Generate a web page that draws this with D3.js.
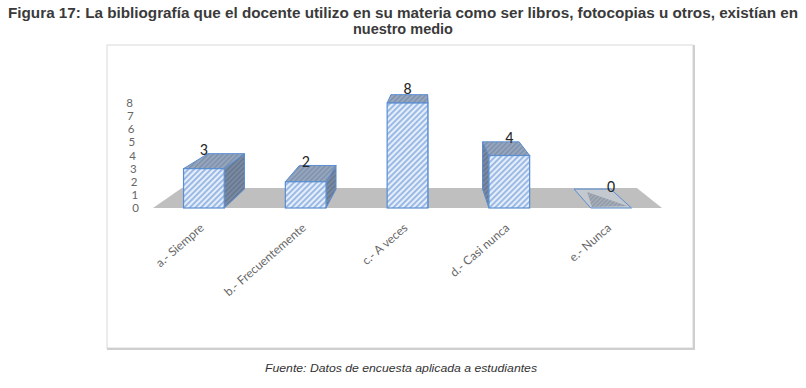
<!DOCTYPE html>
<html>
<head>
<meta charset="utf-8">
<script src="https://cdn.jsdelivr.net/npm/d3@7"></script>
<style>
  body { margin: 0; background: #fff; }
  svg { display: block; }
</style>
</head>
<body>
<svg id="chart" width="806" height="388"></svg>
<script>
var categories = ["a.- Siempre", "b.- Frecuentemente", "c.- A veces", "d.- Casi nunca", "e.- Nunca"];
var values = [3, 2, 8, 4, 0];
var yTicks = [0, 1, 2, 3, 4, 5, 6, 7, 8];
var titleLines = ["Figura 17: La bibliografía que el docente utilizo en su materia como ser libros, fotocopias u otros, existían en", "nuestro medio"];
var footer = "Fuente: Datos de encuesta aplicada a estudiantes";

var svg = d3.select("#chart");
var defs = svg.append("defs");

// fake 3d: vanishing point + depth factor
var vp = [425, 20], k = 0.106, barDepth = 0.95;
function proj(x, y, z) {
  return [x + (vp[0] - x) * k * z, y + (vp[1] - y) * k * z];
}
function poly(pts) { return pts.map(function(p) { return p.join(","); }).join(" "); }

var x = d3.scaleBand().domain(categories).range([153, 662]).paddingInner(0.6).paddingOuter(0.3);
var y = d3.scaleLinear().domain([0, 8]).range([208, 103]);

function hatch(id, bg, fg, w, size) {
  var p = defs.append("pattern").attr("id", id)
      .attr("patternUnits", "userSpaceOnUse")
      .attr("width", size).attr("height", size)
      .attr("patternTransform", "rotate(45)");
  p.append("rect").attr("width", size).attr("height", size).attr("fill", bg);
  p.append("rect").attr("width", w).attr("height", size).attr("fill", fg);
}
hatch("front", "#e6eefa", "#93b5e4", 1.8, 4);
hatch("top", "#95a6be", "#7f91ab", 1.5, 3.5);
hatch("side", "#7a8aa2", "#66768f", 1.5, 3.5);
hatch("shadow", "#a9b0ba", "#8e98a6", 1.5, 3);

// title
svg.append("g").selectAll("text")
  .data(titleLines)
  .enter().append("text")
    .attr("x", 403)
    .attr("y", function(d, i) { return 18 + i * 16; })
    .attr("text-anchor", "middle")
    .attr("textLength", function(d, i) { return i == 0 ? 790 : 100; })
    .attr("lengthAdjust", "spacingAndGlyphs")
    .style("font-family", "'Liberation Sans', Arial, sans-serif")
    .style("font-weight", "bold")
    .style("font-size", "14px")
    .style("fill", "#3a3a3a")
    .text(function(d) { return d; });

// chart frame
svg.append("rect")
  .attr("x", 107).attr("y", 45).attr("width", 586).attr("height", 303)
  .attr("fill", "#fff").attr("stroke", "#d9d9d9").attr("stroke-width", 1);
svg.append("path")
  .attr("d", "M694,45V349H107")
  .attr("fill", "none").attr("stroke", "#cfcfcf").attr("stroke-width", 2);

// floor
var x0 = x.range()[0], x1 = x.range()[1];
svg.append("polygon")
  .attr("points", poly([proj(x0, y(0), 0), proj(x1, y(0), 0), proj(x1, y(0), 1), proj(x0, y(0), 1)]))
  .attr("fill", "#bfbfbf");

// y tick labels
svg.append("g").selectAll("text")
  .data(yTicks)
  .enter().append("text")
    .attr("x", function(d) { return 139 - d * 0.75; })
    .attr("y", function(d) { return y(d); })
    .attr("dy", "0.35em")
    .attr("text-anchor", "end")
    .style("font-family", "Lato, 'Open Sans', sans-serif")
    .style("font-size", "11.5px")
    .style("fill", "#666")
    .text(function(d) { return d; });

// bars
var bars = svg.append("g").selectAll("g")
  .data(categories.map(function(c, i) { return {cat: c, value: values[i]}; }))
  .enter().append("g");

bars.each(function(d) {
  var g = d3.select(this);
  var l = x(d.cat), r = l + x.bandwidth(), t = y(d.value), b = y(0);
  var cx = l + x.bandwidth() / 2;

  if (d.value == 0) {
    // flat box lying on the floor
    var w = x.bandwidth();
    g.append("polygon")
      .attr("points", poly([proj(l, b, 0), proj(r, b, 0), proj(r, b, barDepth), proj(l, b, barDepth)]))
      .attr("fill", "#c4c9cf").attr("stroke", "#5a8ed1").attr("stroke-width", 1);
    g.append("polygon")
      .attr("points", poly([proj(l + 0.28 * w, b, 0.8), proj(l + 0.05 * w, b, 0.05), proj(l + 0.95 * w, b, 0.1)]))
      .attr("fill", "url(#shadow)");
  } else {
    // side face, whichever one faces the vanishing point
    var sx = cx < vp[0] ? r : l;
    g.append("polygon")
      .attr("points", poly([proj(sx, b, 0), proj(sx, t, 0), proj(sx, t, barDepth), proj(sx, b, barDepth)]))
      .attr("fill", "url(#side)").attr("stroke", "#5a8ed1").attr("stroke-width", 1);
    g.append("polygon")
      .attr("points", poly([proj(l, t, 0), proj(r, t, 0), proj(r, t, barDepth), proj(l, t, barDepth)]))
      .attr("fill", "url(#top)").attr("stroke", "#5a8ed1").attr("stroke-width", 1);
    g.append("rect")
      .attr("x", l).attr("y", t).attr("width", r - l).attr("height", b - t)
      .attr("fill", "url(#front)").attr("stroke", "#5a8ed1").attr("stroke-width", 1.2);
  }

  g.append("text")
    .attr("x", cx)
    .attr("y", proj(cx, t, 0.6)[1] - 4)
    .attr("text-anchor", "middle")
    .style("font-family", "Carlito, Lato, sans-serif")
    .style("font-size", "16px")
    .style("fill", "#262626")
    .text(d.value);
});

// category labels
svg.append("g").selectAll("text")
  .data(categories)
  .enter().append("text")
    .attr("transform", function(d) { return "translate(" + (x(d) + x.bandwidth() / 2 + 1) + ",229) rotate(-41)"; })
    .attr("text-anchor", "end")
    .style("font-family", "Lato, 'Open Sans', sans-serif")
    .style("font-size", "12px")
    .style("fill", "#666")
    .text(function(d) { return d; });

// source note
svg.append("text")
  .attr("x", 401).attr("y", 372)
  .attr("text-anchor", "middle")
  .attr("textLength", 272)
  .attr("lengthAdjust", "spacingAndGlyphs")
  .style("font-family", "'Liberation Sans', Arial, sans-serif")
  .style("font-style", "italic")
  .style("font-size", "11.5px")
  .style("fill", "#333")
  .text(footer);
</script>
</body>
</html>
